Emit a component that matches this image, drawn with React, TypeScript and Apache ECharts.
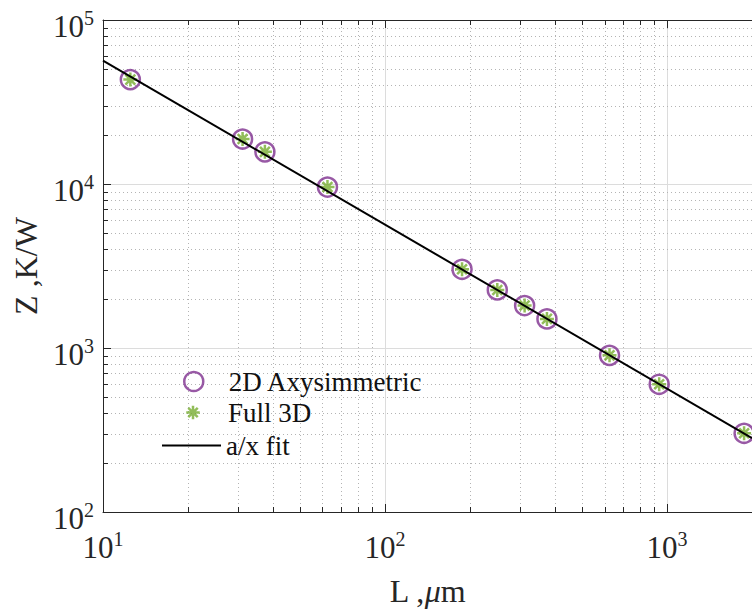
import React, { useEffect, useRef } from 'react';
import * as echarts from 'echarts';

// ---- data ----
const lengthsUm = [12.5, 31.25, 37.5, 62.5, 187.5, 250, 312.5, 375, 625, 937.5, 1875];
const z2DAxisym = [43300, 18800, 15700, 9580, 3020, 2260, 1815, 1505, 902, 601, 302];
const zFull3D = [43300, 18800, 15700, 9580, 3020, 2260, 1815, 1505, 902, 601, 302];
const fitX = [10, 2000];
const fitZ = [56500, 282.5];
const xMinorTicks = [20, 30, 40, 50, 60, 70, 80, 90, 200, 300, 400, 500, 600, 700, 800, 900];
const yMinorTicks = [
  200, 300, 400, 500, 600, 700, 800, 900,
  2000, 3000, 4000, 5000, 6000, 7000, 8000, 9000,
  20000, 30000, 40000, 50000, 60000, 70000, 80000, 90000,
];
const X_MIN = 10;
const X_MAX = 2000;
const Y_MIN = 100;
const Y_MAX = 100000;

const FONT = 'Liberation Serif';
const AXIS_COLOR = '#262626';
const PURPLE = '#7E2F8E';
const GREEN = '#77AC30';
const MAJOR_GRID = '#dcdcdc';
const MINOR_GRID = '#b4b4b4';
const STAR = 'path://M10,0L10,20M0,10L20,10M3,3L17,17M3,17L17,3';

const powLabel = (v: number) => {
  const e = Math.round(Math.log10(v));
  return `{b|10}{s|${e}}`;
};

const labelRich = {
  b: { fontSize: 31, lineHeight: 31, padding: [5, 0, 0, 0], fontFamily: FONT, color: AXIS_COLOR },
  s: { fontSize: 20, lineHeight: 20, verticalAlign: 'top', fontFamily: FONT, color: AXIS_COLOR },
};

const crisp = (v: number) => Math.round(v) + 0.5;

export default function App() {
  const ref = useRef<HTMLDivElement>(null);

  useEffect(() => {
    if (!ref.current) return;
    const chart = echarts.init(ref.current, undefined, { renderer: 'svg' });

    const legendText = { fontSize: 27, fontFamily: FONT, color: '#111' };

    const option: any = {
      animation: false,
      backgroundColor: '#ffffff',
      textStyle: { fontFamily: FONT },
      grid: { left: 103, right: -8, top: 20, bottom: 98, containLabel: false },
      xAxis: [
        {
          type: 'log',
          logBase: 10,
          min: X_MIN,
          max: X_MAX,
          position: 'bottom',
          axisLine: { show: true, lineStyle: { color: AXIS_COLOR, width: 1 } },
          axisTick: { show: true, inside: true, length: 8, lineStyle: { color: AXIS_COLOR, width: 1 } },
          splitLine: { show: true, lineStyle: { color: MAJOR_GRID, width: 1 } },
          axisLabel: {
            formatter: powLabel,
            rich: labelRich,
            margin: 17,
            showMaxLabel: false,
            showMinLabel: true,
          },
          name: '{n|L ,}{i|μ}{n|m}',
          nameLocation: 'middle',
          nameGap: 63,
          nameTextStyle: {
            rich: {
              n: { fontSize: 32, fontFamily: FONT, color: AXIS_COLOR },
              i: { fontSize: 32, fontFamily: FONT, fontStyle: 'italic', color: AXIS_COLOR },
            },
          },
        },
        {
          type: 'log',
          logBase: 10,
          min: X_MIN,
          max: X_MAX,
          position: 'top',
          axisLine: { show: true, lineStyle: { color: AXIS_COLOR, width: 1 } },
          axisTick: { show: true, inside: true, length: 8, lineStyle: { color: AXIS_COLOR, width: 1 } },
          splitLine: { show: false },
          axisLabel: { show: false },
        },
      ],
      yAxis: [
        {
          type: 'log',
          logBase: 10,
          min: Y_MIN,
          max: Y_MAX,
          position: 'left',
          axisLine: { show: true, lineStyle: { color: AXIS_COLOR, width: 1 } },
          axisTick: { show: true, inside: true, length: 8, lineStyle: { color: AXIS_COLOR, width: 1 } },
          splitLine: { show: true, lineStyle: { color: MAJOR_GRID, width: 1 } },
          axisLabel: {
            formatter: powLabel,
            rich: labelRich,
            margin: 9,
            padding: [7, 0, 0, 0],
          },
          name: 'Z ,K/W',
          nameLocation: 'middle',
          nameGap: 61,
          nameTextStyle: { fontSize: 32, fontFamily: FONT, color: AXIS_COLOR },
        },
      ],
      legend: [
        {
          data: [{ name: '2D Axysimmetric', icon: 'circle', itemStyle: { color: 'transparent', borderColor: PURPLE, borderWidth: 2.5 } }],
          left: 183,
          top: 368,
          padding: 0,
          itemWidth: 60,
          itemHeight: 19,
          selectedMode: false,
          textStyle: legendText,
        },
        {
          data: [{ name: 'Full 3D', icon: STAR, itemStyle: { color: 'transparent', borderColor: GREEN, borderWidth: 2.5 } }],
          left: 185,
          top: 399,
          padding: 0,
          itemWidth: 60,
          itemHeight: 13.5,
          selectedMode: false,
          textStyle: legendText,
        },
        {
          data: [{ name: 'a/x fit', icon: 'rect', itemStyle: { color: '#000' } }],
          left: 162,
          top: 432,
          padding: 0,
          itemWidth: 59,
          itemHeight: 2,
          selectedMode: false,
          textStyle: legendText,
        },
      ],
      series: [
        {
          type: 'custom',
          name: 'xminor',
          silent: true,
          xAxisIndex: 0,
          yAxisIndex: 0,
          data: xMinorTicks.map((v) => [v, Y_MIN]),
          renderItem: (_p: any, api: any) => {
            const x = api.value(0);
            const p0 = api.coord([x, Y_MIN]);
            const p1 = api.coord([x, Y_MAX]);
            const cx = crisp(p0[0]);
            return {
              type: 'group',
              children: [
                { type: 'line', shape: { x1: cx, y1: p0[1], x2: cx, y2: p1[1] }, style: { stroke: MINOR_GRID, lineWidth: 1, lineDash: [1, 3] } },
                { type: 'line', shape: { x1: cx, y1: p0[1], x2: cx, y2: p0[1] - 5 }, style: { stroke: AXIS_COLOR, lineWidth: 1 } },
                { type: 'line', shape: { x1: cx, y1: p1[1], x2: cx, y2: p1[1] + 5 }, style: { stroke: AXIS_COLOR, lineWidth: 1 } },
              ],
            };
          },
        },
        {
          type: 'custom',
          name: 'yminor',
          silent: true,
          xAxisIndex: 0,
          yAxisIndex: 0,
          data: yMinorTicks.map((v) => [X_MIN, v]),
          renderItem: (_p: any, api: any) => {
            const y = api.value(1);
            const p0 = api.coord([X_MIN, y]);
            const p1 = api.coord([X_MAX, y]);
            const cy = crisp(p0[1]);
            return {
              type: 'group',
              children: [
                { type: 'line', shape: { x1: p0[0], y1: cy, x2: p1[0], y2: cy }, style: { stroke: MINOR_GRID, lineWidth: 1, lineDash: [1, 3] } },
                { type: 'line', shape: { x1: p0[0], y1: cy, x2: p0[0] + 5, y2: cy }, style: { stroke: AXIS_COLOR, lineWidth: 1 } },
              ],
            };
          },
        },
        {
          type: 'line',
          name: 'a/x fit',
          data: fitX.map((x, i) => [x, fitZ[i]]),
          symbol: 'none',
          showSymbol: false,
          lineStyle: { color: '#000', width: 2 },
          itemStyle: { color: '#000' },
          silent: true,
        },
        {
          type: 'scatter',
          name: '2D Axysimmetric',
          data: lengthsUm.map((x, i) => [x, z2DAxisym[i]]),
          symbol: 'circle',
          symbolSize: 19,
          itemStyle: { color: 'transparent', borderColor: PURPLE, borderWidth: 2.5 },
          silent: true,
          clip: false,
        },
        {
          type: 'scatter',
          name: 'Full 3D',
          data: lengthsUm.map((x, i) => [x, zFull3D[i]]),
          symbol: STAR,
          symbolSize: 14,
          itemStyle: { color: 'transparent', borderColor: GREEN, borderWidth: 2.5 },
          silent: true,
          clip: false,
        },
      ],
    };

    chart.setOption(option);
    return () => chart.dispose();
  }, []);

  return (
    <div
      ref={ref}
      style={{ position: 'absolute', left: 0, top: 0, width: 752, height: 612, background: '#fff' }}
    />
  );
}
